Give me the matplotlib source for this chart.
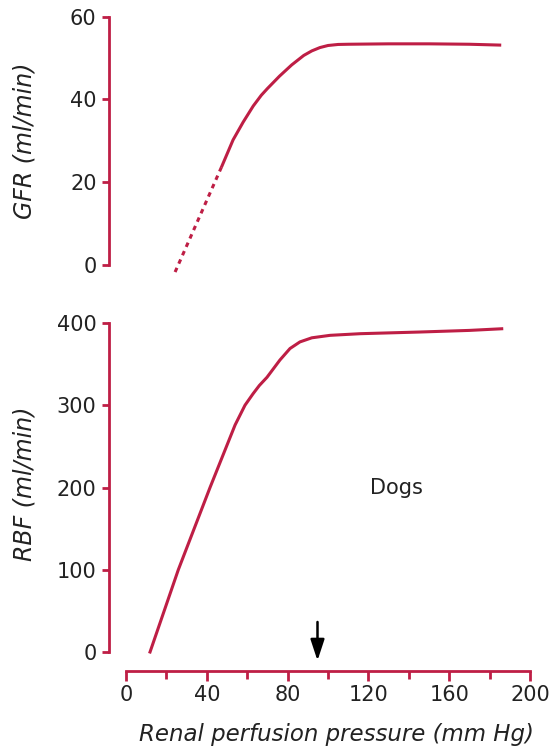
import matplotlib
matplotlib.use("Agg")
import matplotlib.pyplot as plt

# data
gfr_dash_x = [24.3, 47.5]
gfr_dash_y = [-1.7, 23.9]
gfr_x = [47.5, 53, 58, 63, 67, 70, 76, 82, 88, 92, 96, 100, 105, 110, 130, 150, 170, 185]
gfr_y = [23.9, 30.2, 34.5, 38.4, 41.0, 42.6, 45.6, 48.3, 50.6, 51.7, 52.5, 53.0, 53.25, 53.3, 53.4, 53.4, 53.3, 53.1]

rbf_x = [11.9, 25.9, 41.6, 54, 58.9, 62.9, 66, 69.8, 76.2, 81.2, 86.1, 92, 101, 116, 145, 170, 186]
rbf_y = [0, 100, 200, 276, 300, 314, 324, 334, 355, 369, 377, 382, 385, 387, 389, 391, 393]

gfr_ticks = [0, 20, 40, 60]
rbf_ticks = [0, 100, 200, 300, 400]
x_major = [0, 40, 80, 120, 160, 200]
x_minor = [20, 60, 100, 140, 180]

red = "#BE1E45"
txt = "#222222"
W, H = 549, 748

plt.rcParams["font.family"] = "DejaVu Sans"

fig = plt.figure(figsize=(W / 100, H / 100), dpi=100)


def px_axes(left, top, right, bottom):
    return fig.add_axes([left / W, 1 - bottom / H, (right - left) / W, (bottom - top) / H])


# pixel -> data scales
xlim = ((109 - 126) / 2.02, (540 - 126) / 2.02)
ylab_x = (25 - 109) / 431

# top panel (GFR)
ax1 = px_axes(109, 8, 540, 278)
ax1.set_xlim(*xlim)
ax1.set_ylim(-(278 - 265) / 4.14, 60 + (16.5 - 8) / 4.14)
ax1.plot(gfr_dash_x, gfr_dash_y, color=red, lw=2.2, ls=(0, (1.5, 1.5)), solid_capstyle="butt")
ax1.plot(gfr_x, gfr_y, color=red, lw=2.2)
for s in ["top", "right", "bottom"]:
    ax1.spines[s].set_visible(False)
ax1.spines["left"].set_bounds(0, 60)
ax1.spines["left"].set_color(red)
ax1.spines["left"].set_linewidth(2)
ax1.set_xticks([])
ax1.set_yticks(gfr_ticks)
ax1.tick_params(axis="y", color=red, width=2, length=5, labelsize=15, labelcolor=txt, pad=4)
ax1.set_ylabel("GFR (ml/min)", fontsize=17, style="italic", color=txt, va="center")
ax1.yaxis.set_label_coords(ylab_x, 1 - (141 - 8) / 270)

# bottom panel (RBF)
ax2 = px_axes(109, 315, 540, 671)
ax2.set_xlim(*xlim)
ax2.set_ylim(-(671 - 652) / 0.8225, 400 + (323 - 315) / 0.8225)
ax2.plot(rbf_x, rbf_y, color=red, lw=2.2)
for s in ["top", "right"]:
    ax2.spines[s].set_visible(False)
ax2.spines["left"].set_bounds(0, 400)
ax2.spines["bottom"].set_bounds(0, 200)
for s in ["left", "bottom"]:
    ax2.spines[s].set_color(red)
    ax2.spines[s].set_linewidth(2)
ax2.set_yticks(rbf_ticks)
ax2.set_xticks(x_major)
ax2.set_xticks(x_minor, minor=True)
ax2.tick_params(axis="y", color=red, width=2, length=5, labelsize=15, labelcolor=txt, pad=4)
ax2.tick_params(axis="x", which="major", color=red, width=2, length=7, labelsize=15, labelcolor=txt, pad=3)
ax2.tick_params(axis="x", which="minor", color=red, width=2, length=5.5)
ax2.set_ylabel("RBF (ml/min)", fontsize=17, style="italic", color=txt, va="center")
ax2.yaxis.set_label_coords(ylab_x, 1 - (484 - 315) / 356)
ax2.set_xlabel("Renal perfusion pressure (mm Hg)", fontsize=16.5, style="italic", color=txt, va="center")
ax2.xaxis.set_label_coords((336.5 - 109) / 431, (671 - 734) / 356)

ax2.text(134, 199, "Dogs", fontsize=15, color=txt, ha="center", va="center")
ax2.annotate("", xy=(94.8, -10.5), xytext=(94.8, 36.5),
             arrowprops=dict(arrowstyle="-|>,head_width=0.28,head_length=0.85", mutation_scale=15,
                             color="black", lw=1.8, shrinkA=0, shrinkB=0))

fig.savefig("out.png", dpi=100)
